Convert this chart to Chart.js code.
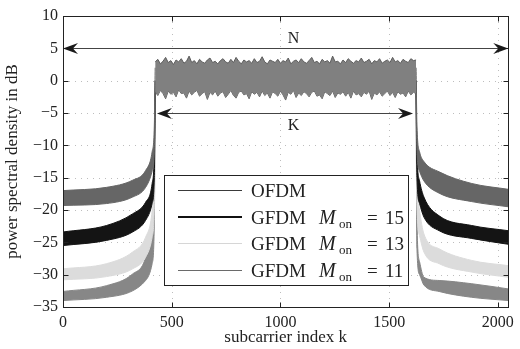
<!DOCTYPE html>
<html>
<head>
<meta charset="utf-8">
<script src="https://cdn.jsdelivr.net/npm/chart.js@4.4.1/dist/chart.umd.min.js"></script>
<style>
  html, body { margin: 0; padding: 0; background: #fff; }
  #wrap { width: 520px; height: 349px; }
</style>
</head>
<body>
<div id="wrap"><canvas id="psdChart" width="520" height="349"></canvas></div>
<script>
// values
const xTicks = [0, 500, 1000, 1500, 2000];
const yTicks = [-35, -30, -25, -20, -15, -10, -5, 0, 5, 10];

const legendNames = ['OFDM', 'GFDM', 'GFDM', 'GFDM'];
const legendMon = [null, 15, 13, 11];

// out-of-band envelopes (upper / lower edge of each band), left and right of the used subcarriers
const kLeft = [0, 200, 320, 380, 410, 420, 424];
const kRight = [1624, 1628, 1640, 1660, 1730, 1880, 2048];

const ofdmUpL = [-17.0, -16.5, -15.4, -13.9, -11.0, -7.0, 2.0];
const ofdmLoL = [-19.3, -19.0, -18.0, -16.5, -14.0, -11.0, -2.0];
const ofdmUpR = [2.0, -7.0, -11.0, -12.5, -14.1, -15.9, -16.8];
const ofdmLoR = [-2.0, -11.0, -14.0, -15.5, -17.4, -18.7, -19.5];

const m15UpL = [-23.4, -22.4, -20.6, -18.8, -15.9, -11.0, 0.0];
const m15LoL = [-25.5, -24.7, -23.4, -21.6, -19.0, -15.0, -2.0];
const m15UpR = [0.0, -11.0, -15.5, -18.0, -20.9, -22.4, -23.2];
const m15LoR = [-2.0, -15.0, -19.0, -21.1, -23.2, -24.4, -25.3];

const m13UpL = [-29.1, -28.3, -26.5, -24.2, -20.1, -14.0, 0.0];
const m13LoL = [-30.8, -30.3, -29.1, -27.3, -24.2, -19.0, -2.0];
const m13UpR = [0.0, -14.0, -20.0, -23.7, -26.0, -27.8, -28.6];
const m13LoR = [-2.0, -19.0, -24.0, -26.5, -28.3, -29.6, -30.4];

const m11UpL = [-32.6, -31.7, -29.9, -27.3, -21.6, -14.0, 0.0];
const m11LoL = [-34.0, -33.5, -32.5, -30.9, -28.3, -22.0, -2.0];
const m11UpR = [0.0, -22.0, -28.0, -30.4, -30.9, -31.4, -32.2];
const m11LoR = [-2.0, -26.0, -30.0, -31.6, -32.6, -33.5, -34.0];

// in-band noise, top and bottom edge (k = 424 ... 1624)
const bandTop = [
  2.9, 3.3, 2.6, 3.0, 3.6, 2.8, 3.1, 2.5, 3.2, 2.9, 3.4, 2.7, 3.0, 3.8, 2.8, 3.1, 2.6, 3.3, 2.9, 2.7,
  3.2, 3.5, 2.8, 3.0, 2.6, 3.1, 3.4, 2.9, 2.7, 3.3, 2.8, 3.6, 3.0, 2.6, 3.2, 2.9, 3.1, 2.7, 3.4, 2.8,
  3.0, 3.7, 2.9, 2.6, 3.2, 3.0, 2.8, 3.3, 2.7, 3.1, 2.9, 3.5, 2.6, 3.0, 3.2, 2.8, 3.4, 2.9, 2.7, 3.1,
  3.6, 2.8, 3.0, 2.6, 3.3, 2.9, 3.1, 2.7, 3.8, 2.9, 3.0, 2.6, 3.2, 2.8, 3.4, 3.0, 2.7, 3.1, 2.9, 3.5,
  2.8, 3.0, 3.3, 2.6, 3.1, 2.9, 3.4, 2.7, 3.0, 3.2, 2.8, 3.6, 2.9, 3.1, 2.7, 3.3, 3.0, 2.8, 3.4, 3.1, 3.2];
const bandBottom = [
  -1.7, -2.3, -1.5, -2.0, -2.8, -1.6, -2.1, -1.8, -2.5, -1.4, -2.0, -1.9, -2.7, -1.6, -2.2, -1.8, -1.5, -2.4, -2.0, -1.7,
  -2.9, -1.8, -2.2, -1.6, -2.4, -1.9, -1.7, -2.6, -2.1, -1.5, -2.3, -2.7, -1.8, -1.6, -2.2, -2.0, -2.8, -1.7, -2.1, -1.8,
  -2.5, -1.6, -2.3, -1.9, -2.7, -1.7, -2.0, -2.4, -1.6, -2.2, -3.0, -1.8, -2.1, -1.5, -2.6, -1.9, -2.3, -1.7, -2.0, -2.5,
  -1.8, -1.6, -2.4, -2.2, -2.8, -1.7, -2.0, -2.3, -1.6, -2.6, -1.9, -2.1, -1.7, -2.4, -1.8, -2.7, -1.6, -2.2, -2.0, -2.5,
  -1.8, -2.1, -1.6, -2.9, -1.9, -2.2, -1.7, -2.4, -2.0, -1.6, -2.3, -1.8, -2.6, -1.7, -2.1, -1.9, -2.5, -1.6, -2.2, -1.8, -2.0];

// arrows: N spans all subcarriers, K the used ones
const arrowN = { from: 0, to: 2048, y: 5, label: 'N', labelX: 1060, labelY: 6.5 };
const arrowK = { from: 432, to: 1610, y: -5, label: 'K', labelX: 1060, labelY: -7.0 };

const SERIF = '"Liberation Serif", "Times New Roman", serif';
const colors = ['#666666', '#141414', '#dcdcdc', '#878787'];
const legendLine = [{ c: '#3a3a3a', w: 1 }, { c: '#111111', w: 2 }, { c: '#d6d6d6', w: 1 }, { c: '#6a6a6a', w: 1 }];

function pts(ks, vs) {
    return ks.map((k, i) => ({ x: k, y: vs[i] }));
}

function bandPair(ks, up, lo, color) {
    return [
        { data: pts(ks, up), borderColor: color, backgroundColor: color, borderWidth: 1, fill: '+1',
          pointRadius: 0, cubicInterpolationMode: 'monotone' },
        { data: pts(ks, lo), borderColor: color, backgroundColor: color, borderWidth: 1, fill: false,
          pointRadius: 0, cubicInterpolationMode: 'monotone' }
    ];
}

const bandK = bandTop.map((v, i) => 424 + i * 1200 / (bandTop.length - 1));

const datasets = [
    { data: pts(bandK, bandTop), borderColor: '#5c5c5c', backgroundColor: '#808080', borderWidth: 1,
      fill: '+1', pointRadius: 0, tension: 0 },
    { data: pts(bandK, bandBottom), borderColor: '#5c5c5c', backgroundColor: '#808080', borderWidth: 1,
      fill: false, pointRadius: 0, tension: 0 },
    ...bandPair(kLeft, ofdmUpL, ofdmLoL, colors[0]),
    ...bandPair(kRight, ofdmUpR, ofdmLoR, colors[0]),
    ...bandPair(kLeft, m15UpL, m15LoL, colors[1]),
    ...bandPair(kRight, m15UpR, m15LoR, colors[1]),
    ...bandPair(kLeft, m13UpL, m13LoL, colors[2]),
    ...bandPair(kRight, m13UpR, m13LoR, colors[2]),
    ...bandPair(kLeft, m11UpL, m11LoL, colors[3]),
    ...bandPair(kRight, m11UpR, m11LoR, colors[3])
];

function drawArrowHead(ctx, x, y, dir) {
    // MATLAB-like notched arrowhead, dir = +1 points right
    ctx.beginPath();
    ctx.moveTo(x, y);
    ctx.lineTo(x - dir * 15, y - 5.5);
    ctx.lineTo(x - dir * 10, y);
    ctx.lineTo(x - dir * 15, y + 5.5);
    ctx.closePath();
    ctx.fill();
}

function drawArrow(ctx, xs, ys, a) {
    const x1 = xs.getPixelForValue(a.from), x2 = xs.getPixelForValue(a.to);
    const py = Math.round(ys.getPixelForValue(a.y)) + 0.5;
    ctx.strokeStyle = '#444';
    ctx.lineWidth = 1;
    ctx.beginPath();
    ctx.moveTo(x1 + 4, py);
    ctx.lineTo(x2 - 4, py);
    ctx.stroke();
    ctx.fillStyle = '#1a1a1a';
    drawArrowHead(ctx, x1, py, -1);
    drawArrowHead(ctx, x2, py, 1);
    ctx.font = '16px ' + SERIF;
    ctx.textAlign = 'center';
    ctx.textBaseline = 'middle';
    ctx.fillStyle = '#222';
    ctx.fillText(a.label, xs.getPixelForValue(a.labelX), ys.getPixelForValue(a.labelY));
}

const figurePlugin = {
    id: 'figure',
    beforeDatasetsDraw(chart) {
        const { ctx, chartArea: a, scales: { x, y } } = chart;
        ctx.save();
        ctx.strokeStyle = '#bdbdbd';
        ctx.lineWidth = 1;
        ctx.setLineDash([1, 5]);
        xTicks.forEach(v => {
            const px = Math.round(x.getPixelForValue(v)) + 0.5;
            ctx.beginPath(); ctx.moveTo(px, a.top); ctx.lineTo(px, a.bottom); ctx.stroke();
        });
        yTicks.forEach(v => {
            const py = Math.round(y.getPixelForValue(v)) + 0.5;
            ctx.beginPath(); ctx.moveTo(a.left, py); ctx.lineTo(a.right, py); ctx.stroke();
        });
        ctx.restore();
    },
    afterDatasetsDraw(chart) {
        const { ctx, chartArea: a, scales: { x, y } } = chart;
        ctx.save();
        // box and inward ticks on all four sides
        const L = Math.round(a.left) + 0.5, R = Math.round(a.right) + 0.5;
        const T = Math.round(a.top) + 0.5, B = Math.round(a.bottom) + 0.5;
        ctx.strokeStyle = '#222';
        ctx.lineWidth = 1;
        ctx.strokeRect(L, T, R - L, B - T);
        ctx.beginPath();
        xTicks.forEach(v => {
            const px = Math.round(x.getPixelForValue(v)) + 0.5;
            ctx.moveTo(px, B); ctx.lineTo(px, B - 5);
            ctx.moveTo(px, T); ctx.lineTo(px, T + 5);
        });
        yTicks.forEach(v => {
            const py = Math.round(y.getPixelForValue(v)) + 0.5;
            ctx.moveTo(L, py); ctx.lineTo(L + 5, py);
            ctx.moveTo(R, py); ctx.lineTo(R - 5, py);
        });
        ctx.stroke();

        drawArrow(ctx, x, y, arrowN);
        drawArrow(ctx, x, y, arrowK);

        // legend
        const box = { l: 164.5, t: 175.5, r: 408.5, b: 285.5 };
        ctx.fillStyle = '#fff';
        ctx.fillRect(box.l, box.t, box.r - box.l, box.b - box.t);
        ctx.strokeStyle = '#222';
        ctx.lineWidth = 1;
        ctx.strokeRect(box.l, box.t, box.r - box.l, box.b - box.t);
        const rows = [190, 217, 243, 270];
        rows.forEach((ry, i) => {
            const w = legendLine[i].w;
            const ly = w % 2 ? ry + 0.5 : ry;
            ctx.strokeStyle = legendLine[i].c;
            ctx.lineWidth = w;
            ctx.beginPath();
            ctx.moveTo(178, ly);
            ctx.lineTo(242, ly);
            ctx.stroke();
            ctx.fillStyle = '#222';
            ctx.textAlign = 'left';
            ctx.textBaseline = 'alphabetic';
            ctx.font = '19px ' + SERIF;
            const base = ry + 7;
            ctx.fillText(legendNames[i], 251, base);
            if (legendMon[i] !== null) {
                ctx.font = 'italic 20px ' + SERIF;
                ctx.fillText('M', 319, base);
                ctx.font = '13px ' + SERIF;
                ctx.fillText('on', 339, base + 4);
                ctx.font = '19px ' + SERIF;
                ctx.fillText('=', 367, base);
                ctx.fillText(String(legendMon[i]), 385, base);
            }
        });
        ctx.restore();
    }
};

const tickFont = { family: SERIF, size: 16 };

new Chart(document.getElementById('psdChart'), {
    type: 'line',
    data: { datasets: datasets },
    options: {
        responsive: false,
        animation: false,
        layout: { padding: { top: 16, right: 7, left: 0, bottom: 0 } },
        plugins: { legend: { display: false }, tooltip: { enabled: false } },
        scales: {
            x: {
                type: 'linear',
                min: 0,
                max: 2048,
                afterFit: s => { s.height = 42; },
                afterBuildTicks: s => { s.ticks = xTicks.map(v => ({ value: v })); },
                grid: { display: false, drawTicks: false },
                border: { display: false },
                ticks: { font: tickFont, color: '#222', padding: 6, maxRotation: 0, callback: v => String(v) },
                title: { display: true, text: 'subcarrier index k', font: { family: SERIF, size: 17 },
                         color: '#222', padding: { top: 0, bottom: 1 } }
            },
            y: {
                min: -35,
                max: 10,
                afterFit: s => { s.width = 63; },
                afterBuildTicks: s => { s.ticks = yTicks.map(v => ({ value: v })); },
                grid: { display: false, drawTicks: false },
                border: { display: false },
                ticks: {
                    font: tickFont, color: '#222', padding: 5,
                    callback: v => (v < 0 ? '\u2212' + Math.abs(v) : String(v))
                },
                title: { display: true, text: 'power spectral density in dB', font: { family: SERIF, size: 17 },
                         color: '#222', padding: { top: 2, bottom: 0 } }
            }
        }
    },
    plugins: [figurePlugin]
});
</script>
</body>
</html>
